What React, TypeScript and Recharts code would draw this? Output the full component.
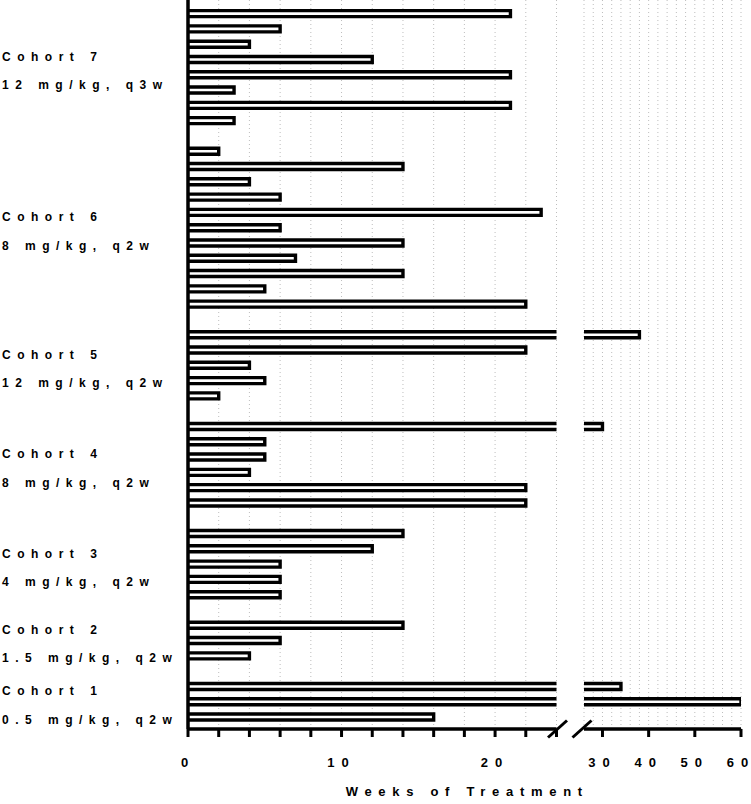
import React from "react";
import { BarChart, Bar, XAxis, YAxis, CartesianGrid } from "recharts";

// cohorts listed top to bottom, as in the figure
const cohortNames = ["Cohort 7", "Cohort 6", "Cohort 5", "Cohort 4", "Cohort 3", "Cohort 2", "Cohort 1"];
const cohortDoses = [
  "12 mg/kg, q3w",
  "8 mg/kg, q2w",
  "12 mg/kg, q2w",
  "8 mg/kg, q2w",
  "4 mg/kg, q2w",
  "1.5 mg/kg, q2w",
  "0.5 mg/kg, q2w"
];

// weeks of treatment per patient
const cohort7 = [21, 6, 4, 12, 21, 3, 21, 3];
const cohort6 = [2, 14, 4, 6, 23, 6, 14, 7, 14, 5, 22];
const cohort5 = [38, 22, 4, 5, 2];
const cohort4 = [30, 5, 5, 4, 22, 22];
const cohort3 = [14, 12, 6, 6, 6];
const cohort2 = [14, 6, 4];
const cohort1 = [34, 60, 16];

const leftTicks = [0, 2, 4, 6, 8, 10, 12, 14, 16, 18, 20, 22, 24];
const rightTicks = [26, 28, 30, 32, 34, 36, 38, 40, 42, 44, 46, 48, 50, 52, 54, 56, 58, 60];
const labelledTicks = [0, 10, 20, 30, 40, 50, 60];

const LEFT_MAX = 24;
const RIGHT_MIN = 26;

const FONT = "'Liberation Sans', Arial, Helvetica, sans-serif";
const CHART_H = 804;
const XAXIS_H = 75;
const PAD_TOP = 5.6;
const PAD_BOTTOM = 4.7;
const TICK_LEN = 8;
const STROKE = 3.4;
const TICK_SPACING = 7;

const cohortWeeks = [cohort7, cohort6, cohort5, cohort4, cohort3, cohort2, cohort1];

type Row = {
  id: string;
  weeks: number | null;
  left: number | null;
  right: number | null;
  cohort: number | null;
  anchorOffset: number | null;
};

const rows: Row[] = [];
cohortWeeks.forEach((list, c) => {
  const mid = (list.length - 1) / 2;
  const anchor = Math.floor(mid);
  list.forEach((w, i) => {
    rows.push({
      id: `c${c}-${i}`,
      weeks: w,
      left: Math.min(w, LEFT_MAX),
      right: w > RIGHT_MIN ? w : null,
      cohort: c,
      anchorOffset: i === anchor ? mid - anchor : null
    });
  });
  if (c < cohortWeeks.length - 1) {
    rows.push({ id: `gap${c}`, weeks: null, left: null, right: null, cohort: null, anchorOffset: null });
  }
});

const rowById: Record<string, Row> = {};
rows.forEach((r) => (rowById[r.id] = r));

const ROW_STEP = (CHART_H - XAXIS_H - PAD_TOP - PAD_BOTTOM) / rows.length;

const LeftBar = (p: any) => {
  const { x, y, width, height, payload } = p;
  if (!(width > 0)) return <g />;
  const x2 = x + width;
  const cut = payload.weeks > LEFT_MAX;
  const d = cut
    ? `M${x},${y}H${x2}M${x},${y + height}H${x2}`
    : `M${x},${y}H${x2}V${y + height}H${x}`;
  return (
    <g>
      <rect x={x} y={y} width={width} height={height} fill="#fff" />
      <path d={d} fill="none" stroke="#000" strokeWidth={STROKE} />
    </g>
  );
};

const RightBar = (p: any) => {
  const { x, y, width, height } = p;
  if (!(width > 0)) return <g />;
  const x2 = x + width;
  return (
    <g>
      <rect x={x} y={y} width={width} height={height} fill="#fff" />
      <path d={`M${x},${y}H${x2}V${y + height}H${x}`} fill="none" stroke="#000" strokeWidth={STROKE} />
    </g>
  );
};

const tickText = {
  fontFamily: FONT,
  fontWeight: 700,
  fontSize: 13,
  letterSpacing: TICK_SPACING,
  fill: "#000"
};

const makeWeekTick = (side: "left" | "right") => (props: any) => {
  const { x, y, payload } = props;
  const v = payload.value as number;
  const axisY = y - TICK_LEN;
  const showLine = side === "left" || labelledTicks.includes(v);
  const brk = side === "left" ? v === LEFT_MAX : v === RIGHT_MIN;
  const bx = side === "left" ? x + 1 : x - 2;
  const s = String(v);
  return (
    <g>
      {showLine && <line x1={x} x2={x} y1={axisY} y2={axisY + TICK_LEN} stroke="#000" strokeWidth={3} />}
      {brk && (
        <line x1={bx - 9.5} y1={axisY + 8.5} x2={bx + 9.5} y2={axisY - 8.5} stroke="#000" strokeWidth={3} />
      )}
      {labelledTicks.includes(v) && (
        <text x={x - TICK_SPACING / 2} y={y + 29.7} textAnchor="middle" style={tickText}>
          {s.slice(0, -1)}
          <tspan style={{ letterSpacing: 0 }}>{s.slice(-1)}</tspan>
        </text>
      )}
    </g>
  );
};

const labelText = {
  fontFamily: FONT,
  fontWeight: 700,
  fontSize: 12,
  letterSpacing: 6.5,
  fill: "#000"
};

const CohortTick = (props: any) => {
  const { y, payload } = props;
  const row = rowById[payload.value];
  if (!row || row.cohort == null || row.anchorOffset == null) return <g />;
  const mid = y + row.anchorOffset * ROW_STEP;
  return (
    <g>
      <text x={2} y={mid - 6} textAnchor="start" style={labelText}>
        {cohortNames[row.cohort]}
      </text>
      <text x={2} y={mid + 22.3} textAnchor="start" style={labelText}>
        {cohortDoses[row.cohort]}
      </text>
    </g>
  );
};

const axisLine = { stroke: "#000", strokeWidth: 3.5 };

export default function App() {
  return (
    <div style={{ position: "absolute", left: 0, top: 0, width: 751, height: 804, background: "#fff" }}>
      <div style={{ position: "absolute", left: 0, top: 0 }}>
        <BarChart
          width={570}
          height={CHART_H}
          data={rows}
          layout="vertical"
          margin={{ top: 0, right: 13.5, bottom: 0, left: 0 }}
        >
          <CartesianGrid horizontal={false} stroke="#bdbdbd" strokeDasharray="1 3" />
          <XAxis
            type="number"
            domain={[0, LEFT_MAX]}
            ticks={leftTicks}
            interval={0}
            height={XAXIS_H}
            axisLine={axisLine}
            tickLine={false}
            tickSize={TICK_LEN}
            tickMargin={0}
            tick={makeWeekTick("left")}
          />
          <YAxis
            type="category"
            dataKey="id"
            width={188}
            interval={0}
            padding={{ top: PAD_TOP, bottom: PAD_BOTTOM }}
            axisLine={axisLine}
            tickLine={false}
            tick={CohortTick}
          />
          <Bar dataKey="left" barSize={6} shape={LeftBar} isAnimationActive={false} />
        </BarChart>
      </div>
      <div style={{ position: "absolute", left: 570, top: 0 }}>
        <BarChart
          width={181}
          height={CHART_H}
          data={rows}
          layout="vertical"
          margin={{ top: 0, right: 10, bottom: 0, left: 14 }}
        >
          <CartesianGrid horizontal={false} stroke="#bdbdbd" strokeDasharray="1 3" />
          <XAxis
            type="number"
            domain={[RIGHT_MIN, 60]}
            allowDataOverflow
            ticks={rightTicks}
            interval={0}
            height={XAXIS_H}
            axisLine={axisLine}
            tickLine={false}
            tickSize={TICK_LEN}
            tickMargin={0}
            tick={makeWeekTick("right")}
          />
          <YAxis
            type="category"
            dataKey="id"
            hide
            padding={{ top: PAD_TOP, bottom: PAD_BOTTOM }}
          />
          <Bar dataKey="right" barSize={6} shape={RightBar} isAnimationActive={false} />
        </BarChart>
      </div>
      <svg width={751} height={804} style={{ position: "absolute", left: 0, top: 0, pointerEvents: "none" }}>
        <text
          x={345.7}
          y={796}
          style={{ fontFamily: FONT, fontWeight: 700, fontSize: 13, letterSpacing: 6.7, fill: "#000" }}
        >
          Weeks of Treatment
        </text>
      </svg>
    </div>
  );
}
